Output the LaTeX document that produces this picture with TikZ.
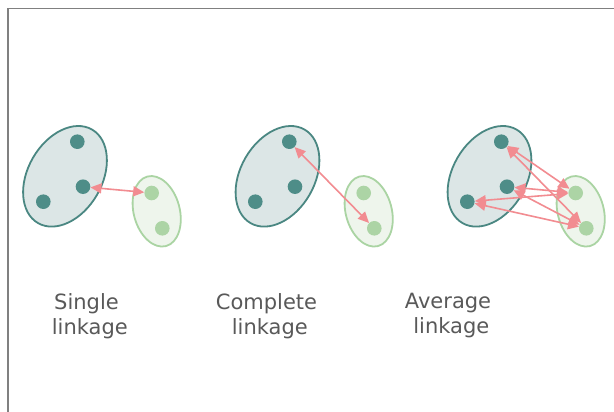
\documentclass[tikz,border=0pt]{standalone}
\usepackage{fontspec}
\setmainfont{DejaVu Sans}
\usetikzlibrary{arrows.meta,shapes.geometric}
\definecolor{bigfill}{RGB}{220,230,230}
\definecolor{bigline}{RGB}{74,135,130}
\definecolor{bigdot}{RGB}{78,141,136}
\definecolor{smallfill}{RGB}{238,245,236}
\definecolor{smallline}{RGB}{170,212,163}
\definecolor{smalldot}{RGB}{172,212,165}
\definecolor{linkpink}{RGB}{242,140,145}
\definecolor{labelgray}{RGB}{89,89,89}
\definecolor{framegray}{RGB}{128,128,128}

\begin{document}
\begin{tikzpicture}[x=1pt, y=-1pt,
		bigcluster/.style={ellipse, draw=bigline, fill=bigfill, line width=1.8pt, minimum width=108pt, minimum height=74pt, inner sep=0pt, rotate=60},
		smallcluster/.style={ellipse, draw=smallline, fill=smallfill, line width=1.8pt, minimum width=46pt, minimum height=72pt, inner sep=0pt, rotate=15},
		bigpt/.style={circle, fill=bigdot, minimum size=14.6pt, inner sep=0pt},
		smallpt/.style={circle, fill=smalldot, minimum size=14.6pt, inner sep=0pt},
		link/.style={{Triangle[length=11pt,width=10pt]}-{Triangle[length=11pt,width=10pt]}, draw=linkpink, fill=linkpink, line width=1.6pt},
		caption/.style={align=center, text=labelgray, font=\fontsize{21}{25}\selectfont}]
			%%%%% START %%%%%
			
			\useasboundingbox (0, 0) rectangle (614, 412);
			\fill[white] (0, 0) rectangle (614, 412);
			\draw[line width=1.5pt, color=framegray] (8, 412) -- (8, 8.5) -- (614, 8.5);
			
			% single linkage
			\node[bigcluster] (s-big) at (65, 176.3) {};
			\node[smallcluster] (s-small) at (156.7, 211.3) {};
			\node[bigpt] (s-a) at (77.3, 141.7) {};
			\node[bigpt] (s-b) at (83, 186.7) {};
			\node[bigpt] (s-c) at (43.3, 201.7) {};
			\node[smallpt] (s-d) at (151.7, 193) {};
			\node[smallpt] (s-e) at (162.3, 228.3) {};
			\draw[link] (s-b) -- (s-d);
			
			% complete linkage
			\node[bigcluster] (c-big) at (277.5, 176.3) {};
			\node[smallcluster] (c-small) at (368.7, 211.3) {};
			\node[bigpt] (c-a) at (289.3, 141.7) {};
			\node[bigpt] (c-b) at (295, 186.7) {};
			\node[bigpt] (c-c) at (255.3, 201.7) {};
			\node[smallpt] (c-d) at (363.7, 193) {};
			\node[smallpt] (c-e) at (374.3, 228.3) {};
			\draw[link] (c-a) -- (c-e);
			
			% average linkage
			\node[bigcluster] (a-big) at (489.5, 176.3) {};
			\node[smallcluster] (a-small) at (580.7, 211.3) {};
			\node[bigpt] (a-a) at (501.3, 141.7) {};
			\node[bigpt] (a-b) at (507, 186.7) {};
			\node[bigpt] (a-c) at (467.3, 201.7) {};
			\node[smallpt] (a-d) at (575.7, 193) {};
			\node[smallpt] (a-e) at (586.3, 228.3) {};
			\foreach \p in {a,b,c}{
				\draw[link] (a-\p) -- (a-d);
				\draw[link] (a-\p) -- (a-e);
			}
			
			% captions
			\node[caption] (s-text) at (86.5, 316) {Single\\\mbox{} linkage};
			\node[caption] (c-text) at (266.5, 316) {Complete\\\mbox{} linkage};
			\node[caption] (a-text) at (448, 316) {Average\\\mbox{} linkage};
			
			%%%%% END %%%%%
		\end{tikzpicture}
\end{document}
